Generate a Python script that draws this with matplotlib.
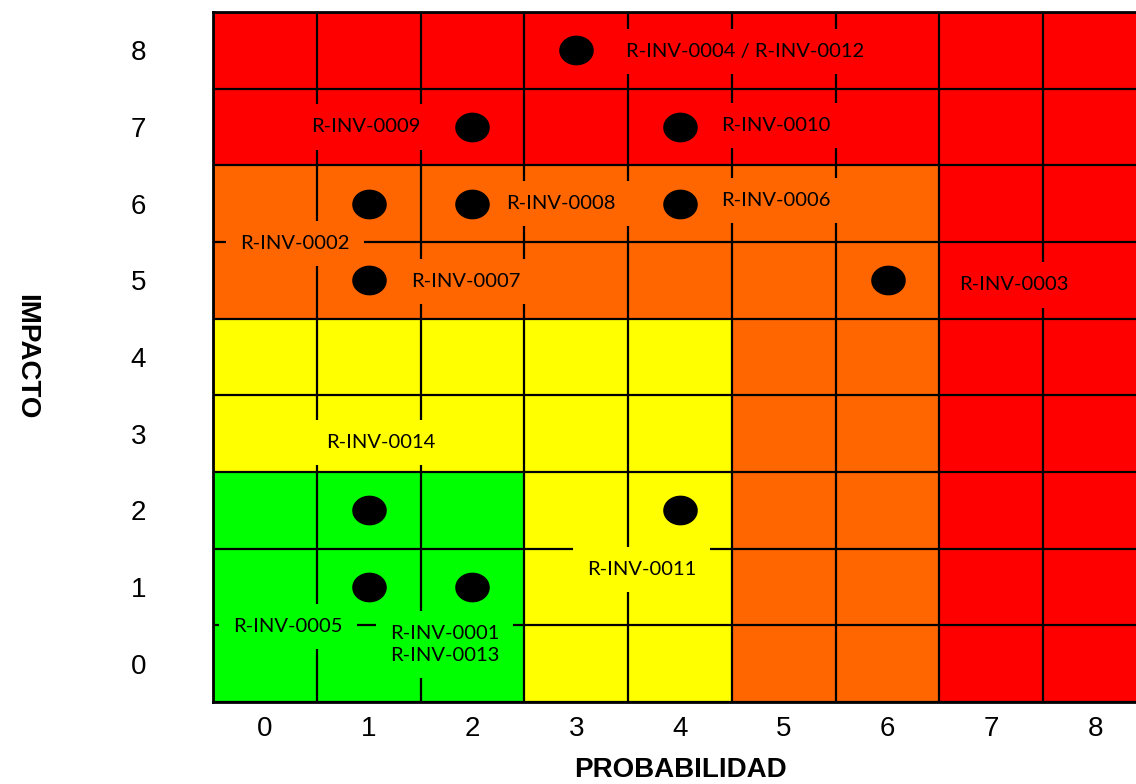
import matplotlib
matplotlib.use("Agg")
import matplotlib.pyplot as plt
import numpy as np
from matplotlib.colors import ListedColormap

# ejes
niveles = [0, 1, 2, 3, 4, 5, 6, 7, 8]

# zona de riesgo por celda (fila = impacto 0..8, columna = probabilidad 0..8)
# 0 verde, 1 amarillo, 2 naranja, 3 rojo
zonas = [
    [0, 0, 0, 1, 1, 2, 2, 3, 3],
    [0, 0, 0, 1, 1, 2, 2, 3, 3],
    [0, 0, 0, 1, 1, 2, 2, 3, 3],
    [1, 1, 1, 1, 1, 2, 2, 3, 3],
    [1, 1, 1, 1, 1, 2, 2, 3, 3],
    [2, 2, 2, 2, 2, 2, 2, 3, 3],
    [2, 2, 2, 2, 2, 2, 2, 3, 3],
    [3, 3, 3, 3, 3, 3, 3, 3, 3],
    [3, 3, 3, 3, 3, 3, 3, 3, 3],
]
colores_zona = ["#00FF00", "#FFFF00", "#FF6600", "#FF0000"]

# riesgos
probabilidad = [3, 2, 4, 1, 2, 4, 1, 6, 1, 4, 1, 2]
impacto = [8, 7, 7, 6, 6, 6, 5, 5, 2, 2, 1, 1]

etiquetas = ["R-INV-0004 / R-INV-0012", "R-INV-0009", "R-INV-0010", "R-INV-0002",
             "R-INV-0008", "R-INV-0006", "R-INV-0007", "R-INV-0003", "R-INV-0014",
             "R-INV-0011", "R-INV-0005", "R-INV-0001\nR-INV-0013"]
# donde Excel dejo cada etiqueta
pos_etiquetas = [(4.63, 7.98), (0.97, 7.0), (4.92, 7.02), (0.29, 5.48),
                 (2.85, 6.0), (4.92, 6.04), (1.94, 4.99), (7.22, 4.94),
                 (1.12, 2.89), (3.63, 1.23), (0.22, 0.48), (1.73, 0.25)]

fig = plt.figure(figsize=(11.36, 7.84), dpi=100)
ax = fig.add_axes([213/1136, 82/784, 934/1136, 690/784])

bordes = np.arange(-0.5, 9, 1)
cmap = ListedColormap(colores_zona)
ax.pcolormesh(bordes, bordes, np.array(zonas), cmap=cmap, vmin=-0.5, vmax=3.5, zorder=0)

ax.set_xlim(-0.5, 8.5)
ax.set_ylim(-0.5, 8.5)
ax.set_xticks(niveles)
ax.set_yticks(niveles)
ax.set_xticks(bordes, minor=True)
ax.set_yticks(bordes, minor=True)
ax.grid(which="minor", color="black", lw=1.6)
ax.grid(which="major", visible=False)
ax.set_axisbelow(False)
ax.tick_params(which="both", length=0)
ax.tick_params(axis="y", pad=48, labelsize=20)
ax.tick_params(axis="x", pad=10, labelsize=20)
for lab in ax.get_xticklabels() + ax.get_yticklabels():
    lab.set_fontfamily("Liberation Sans")
for sp in ax.spines.values():
    sp.set_linewidth(2)
    sp.set_color("black")

t = np.linspace(0, 2*np.pi, 60)
elipse = np.column_stack([1.17*np.cos(t), np.sin(t)])
ax.scatter(probabilidad, impacto, marker=elipse, s=570, color="black", zorder=5)

for txt, (x, y) in zip(etiquetas, pos_etiquetas):
    fila = int(round(min(max(y, 0), 8)))
    col = int(round(min(max(x, 0), 8)))
    fondo = colores_zona[zonas[fila][col]]
    ax.text(x, y, txt, ha="center", va="center", fontsize=14.5, family="Lato",
            linespacing=1.3, zorder=4,
            bbox=dict(boxstyle="square,pad=0.7", fc=fondo, ec="none"))

ax.set_xlabel("PROBABILIDAD", fontsize=20, fontweight="bold", family="Liberation Sans", va="center")
ax.xaxis.set_label_coords(0.5, -0.0986)
ax.set_ylabel("IMPACTO", fontsize=20, fontweight="bold", family="Liberation Sans",
              rotation=270, va="center", ha="center")
ax.yaxis.set_label_coords(-0.2002, 0.5)

fig.savefig("out.png", dpi=100)
